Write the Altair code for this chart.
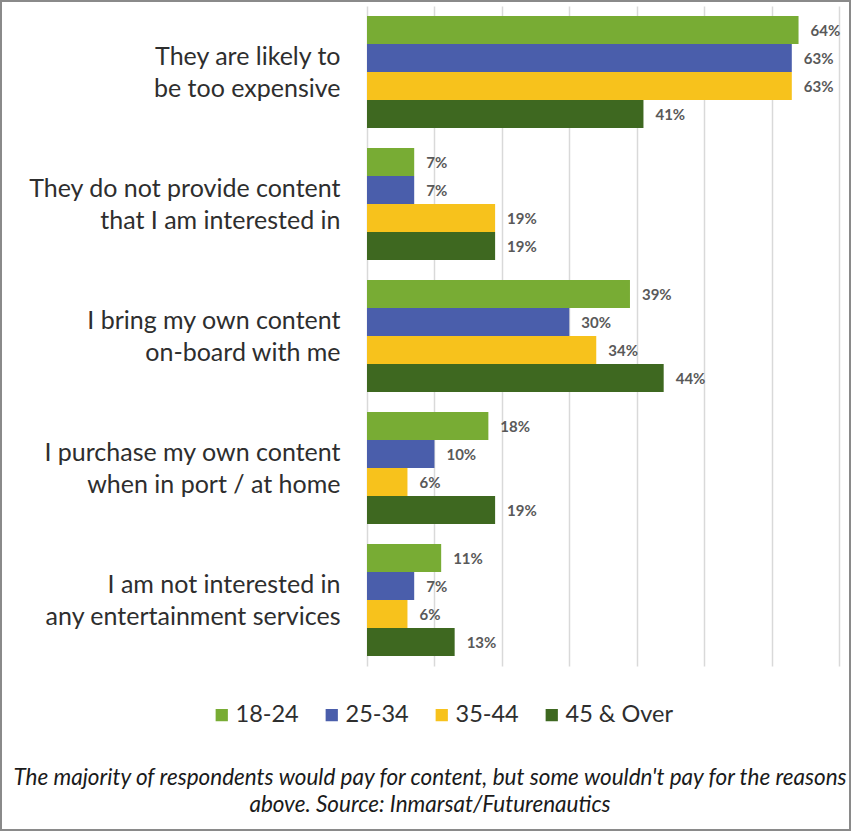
import altair as alt
import pandas as pd

categories = [
    "They are likely to|be too expensive",
    "They do not provide content|that I am interested in",
    "I bring my own content|on-board with me",
    "I purchase my own content|when in port / at home",
    "I am not interested in|any entertainment services",
]
series = ["18-24", "25-34", "35-44", "45 & Over"]
v_18_24 = [64, 7, 39, 18, 11]
v_25_34 = [63, 7, 30, 10, 7]
v_35_44 = [63, 19, 34, 6, 6]
v_45_over = [41, 19, 44, 19, 13]
colors = ["#78ac34", "#4a5eab", "#f7c21c", "#3e6820"]
grid_values = [0, 10, 20, 30, 40, 50, 60, 70]
caption = ("The majority of respondents would pay for content, but some wouldn't pay for the reasons\n"
           "above. Source: Inmarsat/Futurenautics")

rows = []
for s, vals in zip(series, [v_18_24, v_25_34, v_35_44, v_45_over]):
    for c, v in zip(categories, vals):
        rows.append({"category": c, "series": s, "value": v, "label": f"{v}%"})
df = pd.DataFrame(rows)

FONT = "Lato"

x_enc = alt.X("value:Q", scale=alt.Scale(domain=[0, 70], nice=False),
              axis=alt.Axis(values=grid_values, labels=False, ticks=False, domain=False,
                            grid=True, gridColor="#d9d9d9", gridWidth=1.5, title=None))
y_enc = alt.Y("category:N", sort=categories,
              scale=alt.Scale(paddingInner=0.15, paddingOuter=0.075),
              axis=alt.Axis(title=None, labelExpr="split(datum.label, '|')",
                            labelFontSize=25, labelColor="#2e2e2e", labelFont=FONT,
                            labelPadding=27, labelOffset=-15, ticks=False, domain=False,
                            labelLineHeight=32, labelLimit=400, grid=False))
yoff = alt.YOffset("series:N", sort=series)

base = alt.Chart(df)

bars = base.mark_bar().encode(
    x=x_enc,
    y=y_enc,
    yOffset=yoff,
    color=alt.Color("series:N", sort=series,
                    scale=alt.Scale(domain=series, range=colors),
                    legend=alt.Legend(orient="none", legendX=-157, legendY=697,
                                      direction="horizontal", title=None,
                                      symbolType="square", symbolSize=150,
                                      symbolStrokeWidth=0, labelFontSize=23.5,
                                      labelFont=FONT, labelColor="#2e2e2e",
                                      columnPadding=21, labelOffset=2)),
)

labels = base.mark_text(align="left", baseline="middle", dx=12, dy=1, fontSize=15,
                        color="#595959", font=FONT, fontWeight="bold").encode(
    x="value:Q",
    y=alt.Y("category:N", sort=categories),
    yOffset=yoff,
    text="label:N",
)

cap = alt.Chart(pd.DataFrame({"t": [caption]})).mark_text(
    fontStyle="italic", fontSize=22.5, font=FONT, color="#1a1a1a",
    lineBreak="\n", lineHeight=27, align="center", baseline="middle",
).encode(x=alt.value(63), y=alt.value(772), text="t:N")

frame = alt.Chart(pd.DataFrame({"a": [0]})).mark_rect(
    fill="transparent", stroke="#8a8a8a", strokeWidth=2
).encode(x=alt.value(-366), x2=alt.value(483), y=alt.value(-5), y2=alt.value(824))

chart = alt.layer(frame, bars, labels, cap).properties(
    width=472, height=660,
    autosize=alt.AutoSizeParams(type="none"),
    padding={"left": 367, "top": 6, "right": 12, "bottom": 170},
    background="white",
).configure_view(stroke=None)

chart.save("out.html", embed_options={"renderer": "svg", "actions": False})
